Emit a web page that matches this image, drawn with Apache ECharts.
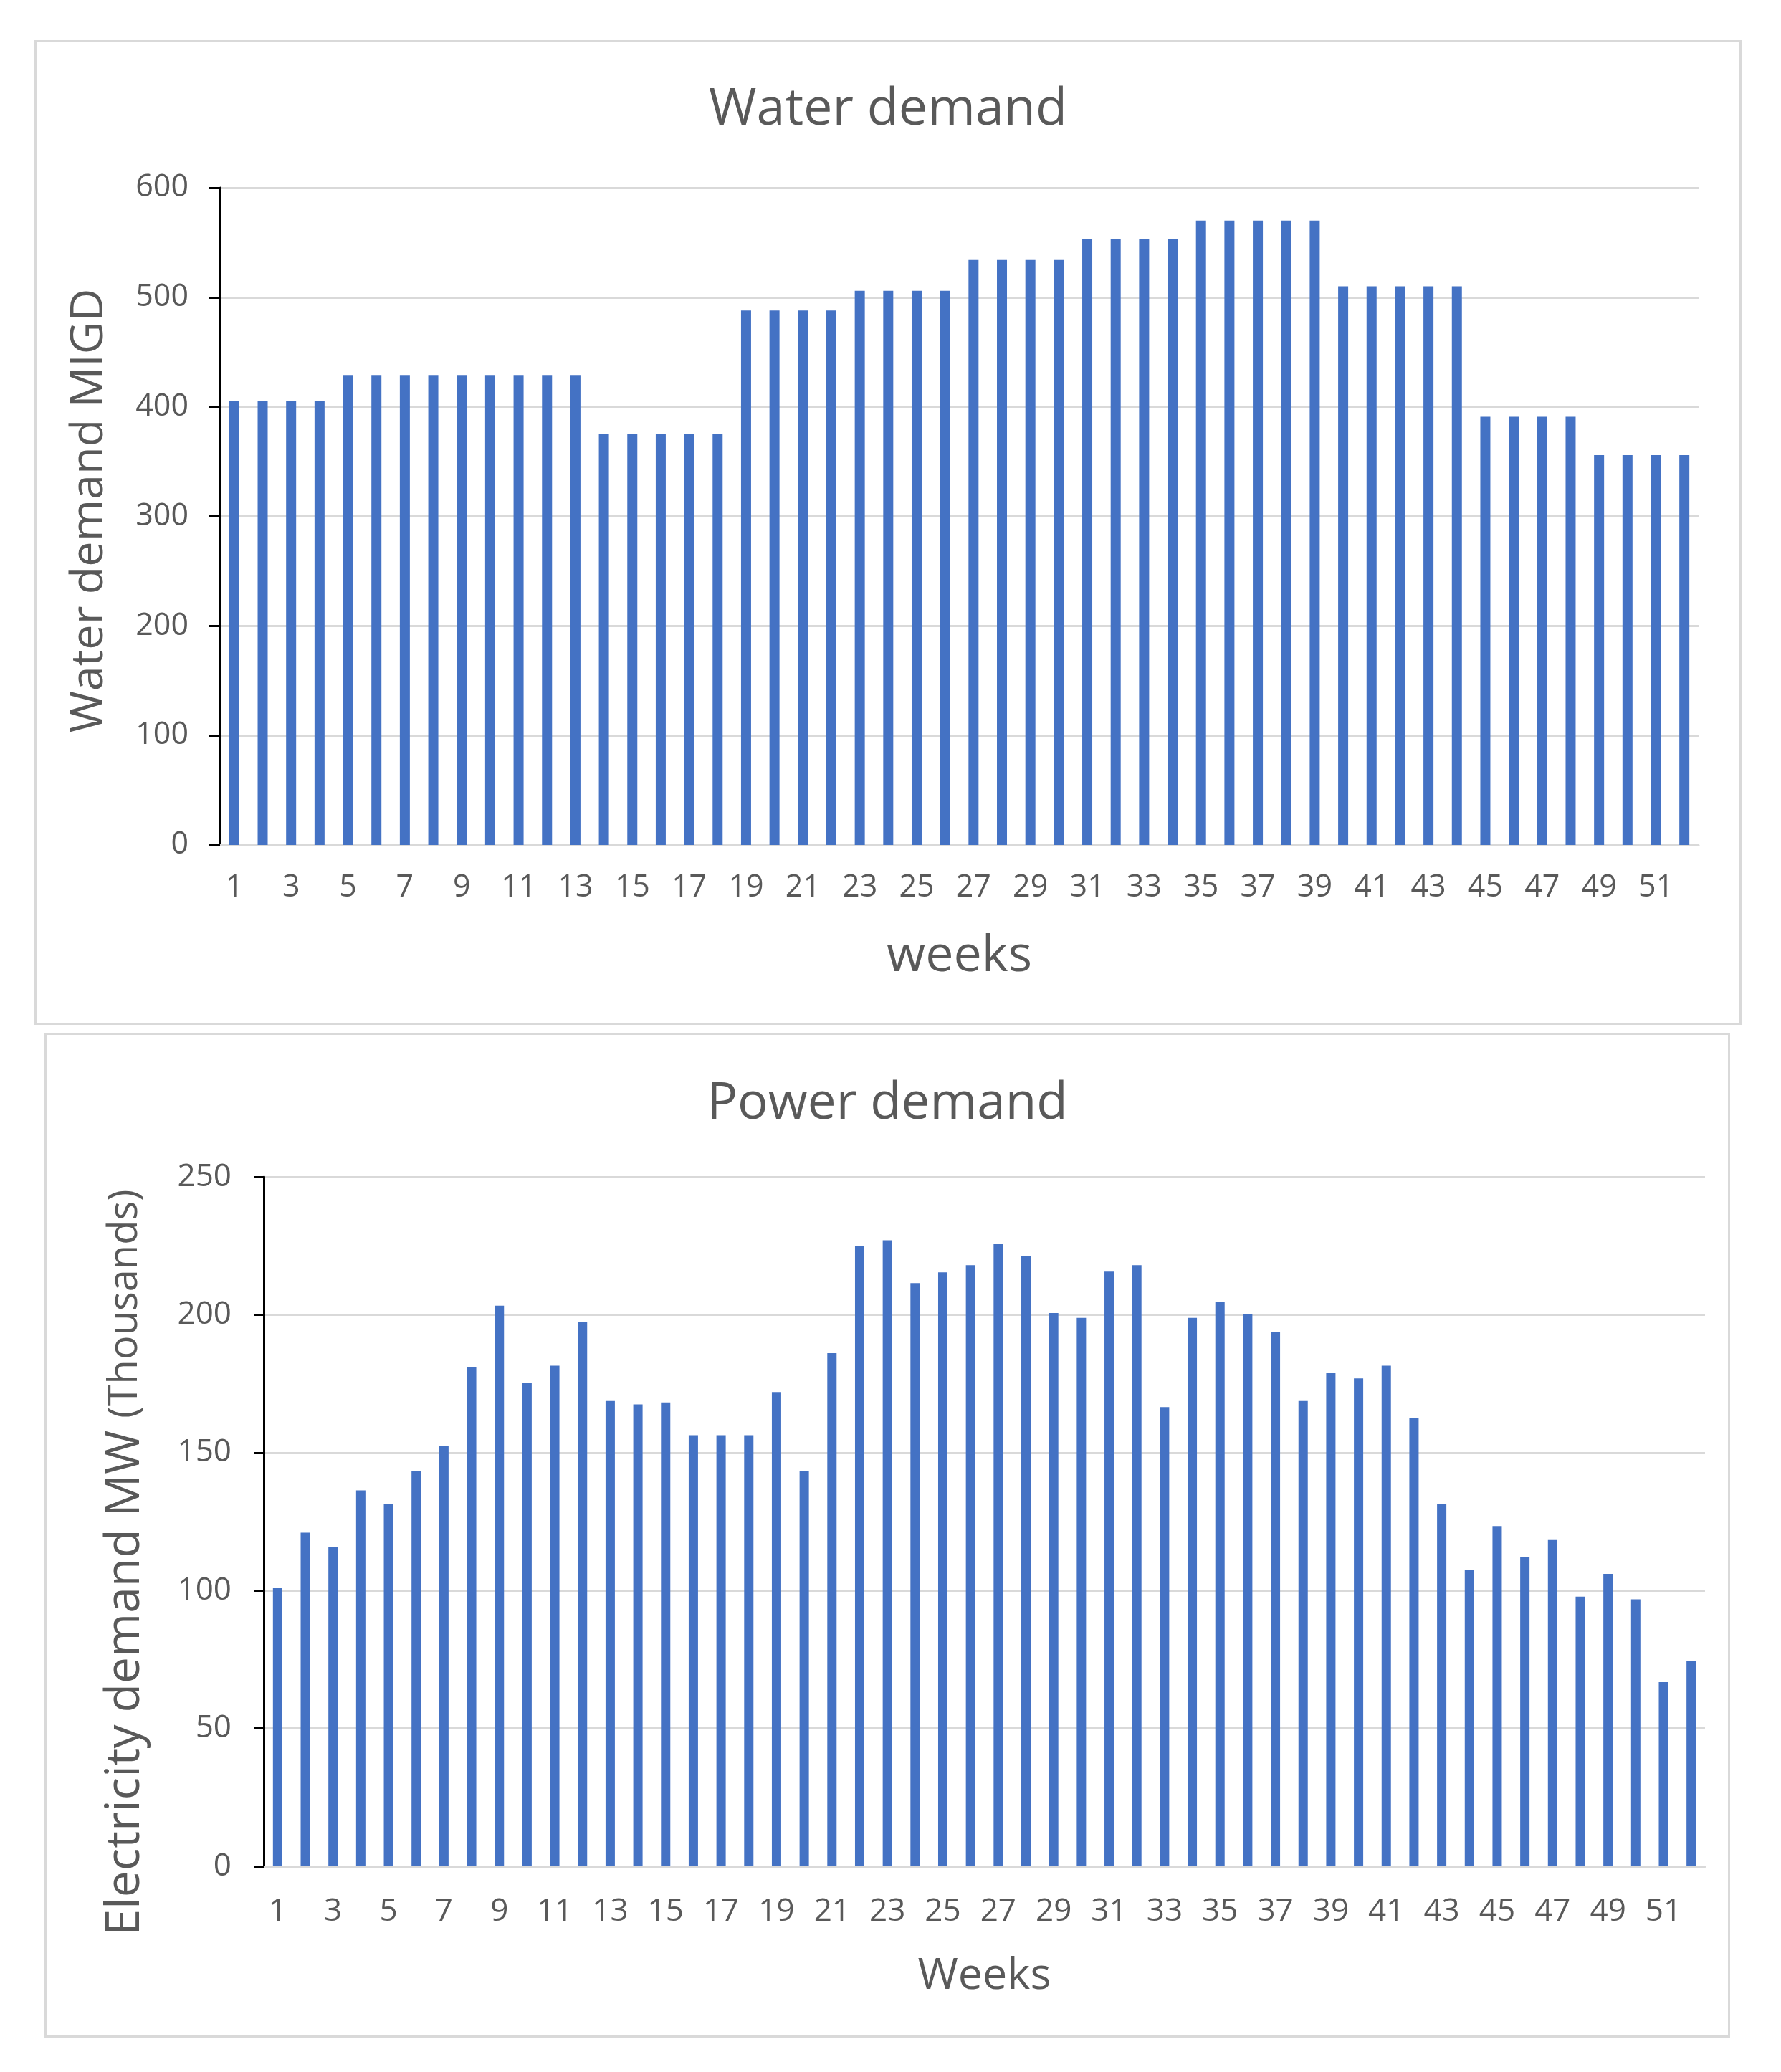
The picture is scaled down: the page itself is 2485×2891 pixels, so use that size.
<!DOCTYPE html>
<html>
<head>
<meta charset="utf-8">
<script src="https://cdn.jsdelivr.net/npm/echarts@6/dist/echarts.min.js"></script>
<style>
  html, body { margin: 0; padding: 0; background: #fff; }
  body { width: 2485px; height: 2891px; position: relative; overflow: hidden; }
  .box { position: absolute; border: 3px solid #d9d9d9; box-sizing: border-box; background: #fff; }
  #c1 { left: 48px; top: 56px; width: 2382px; height: 1374px; }
  #c2 { left: 62px; top: 1441px; width: 2352px; height: 1402px; }
</style>
</head>
<body>
<div id="c1" class="box"></div>
<div id="c2" class="box"></div>
<script>
const weeks = ['1','2','3','4','5','6','7','8','9','10','11','12','13','14','15','16','17','18','19','20','21','22','23','24','25','26','27','28','29','30','31','32','33','34','35','36','37','38','39','40','41','42','43','44','45','46','47','48','49','50','51','52'];
const waterDemand = [405,405,405,405,429,429,429,429,429,429,429,429,429,375,375,375,375,375,488,488,488,488,506,506,506,506,534,534,534,534,553,553,553,553,570,570,570,570,570,510,510,510,510,510,391,391,391,391,356,356,356,356];
const powerDemand = [101,121,115.7,136.3,131.4,143.3,152.5,181,203.3,175.2,181.5,197.5,168.7,167.5,168.2,156.3,156.3,156.3,172,143.3,186.1,225,227,211.5,215.4,218,225.6,221.2,200.6,198.9,215.6,218,166.5,198.9,204.5,200.1,193.6,168.7,178.8,176.9,181.5,162.6,131.4,107.5,123.4,112,118.3,97.8,106,96.8,66.8,74.5];
const waterTicks = { min: 0, max: 600, interval: 100 };
const powerTicks = { min: 0, max: 250, interval: 50 };

const FONT = '"Open Sans", "Noto Sans", sans-serif';
const TXT = '#595959';
const BAR = '#4472C4';
const GRID = '#d9d9d9';

function makeOption(cfg) {
  return {
    animation: false,
    backgroundColor: '#fff',
    title: {
      text: cfg.title, left: 'center', top: cfg.titleTop,
      textStyle: { fontFamily: FONT, fontSize: cfg.titleSize, fontWeight: 'normal', color: TXT, lineHeight: cfg.titleSize }
    },
    grid: cfg.grid,
    xAxis: {
      type: 'category', data: weeks,
      name: cfg.xName, nameLocation: 'middle', nameGap: cfg.xNameGap,
      nameTextStyle: { fontFamily: FONT, fontSize: cfg.xNameSize, color: TXT },
      axisLine: { show: true, lineStyle: { color: GRID, width: 3 } },
      axisTick: { show: false },
      axisLabel: { interval: 1, margin: cfg.xLabelMargin, fontFamily: FONT, fontSize: cfg.labelSize, color: TXT }
    },
    yAxis: {
      type: 'value', min: cfg.ticks.min, max: cfg.ticks.max, interval: cfg.ticks.interval,
      name: cfg.yName, nameLocation: 'middle', nameGap: cfg.yNameGap, nameRotate: 90,
      nameTextStyle: cfg.yNameStyle,
      axisLine: { show: true, lineStyle: { color: '#000', width: 3 } },
      axisTick: { show: true, length: cfg.tickLen, lineStyle: { color: '#000', width: 3 } },
      axisLabel: { margin: cfg.yLabelMargin, fontFamily: FONT, fontSize: cfg.labelSize, color: TXT },
      splitLine: { show: true, lineStyle: { color: GRID, width: 3 } }
    },
    series: [{
      type: 'bar', data: cfg.data, barWidth: cfg.barWidth,
      itemStyle: { color: BAR }
    }]
  };
}

const chart1 = echarts.init(document.getElementById('c1'), null, { renderer: 'canvas' });
chart1.setOption(makeOption({
  title: 'Water demand', titleTop: 53, titleSize: 72,
  grid: { left: 256, right: 57, top: 203, bottom: 248 },
  xName: 'weeks', xNameGap: 121, xNameSize: 70, xLabelMargin: 38,
  labelSize: 43,
  ticks: waterTicks,
  yName: 'Water demand MIGD', yNameGap: 150,
  yNameStyle: { fontFamily: FONT, fontSize: 63, color: TXT, padding: [0, 0, 0, 16] },
  tickLen: 16, yLabelMargin: 44,
  data: waterDemand, barWidth: 14
}));

const chart2 = echarts.init(document.getElementById('c2'), null, { renderer: 'canvas' });
chart2.setOption(makeOption({
  title: 'Power demand', titleTop: 56, titleSize: 71,
  grid: { left: 303, right: 32, top: 198, bottom: 236 },
  xName: 'Weeks', xNameGap: 123, xNameSize: 61, xLabelMargin: 41,
  labelSize: 44,
  ticks: powerTicks,
  yName: '{a|Electricity demand MW} {b|(Thousands)}', yNameGap: 160,
  yNameStyle: {
    fontFamily: FONT, fontSize: 66, color: TXT, padding: [0, 114, 0, 0],
    rich: {
      a: { fontFamily: FONT, fontSize: 66, color: TXT },
      b: { fontFamily: FONT, fontSize: 56, color: TXT }
    }
  },
  tickLen: 13, yLabelMargin: 45,
  data: powerDemand, barWidth: 13
}));
</script>
</body>
</html>
